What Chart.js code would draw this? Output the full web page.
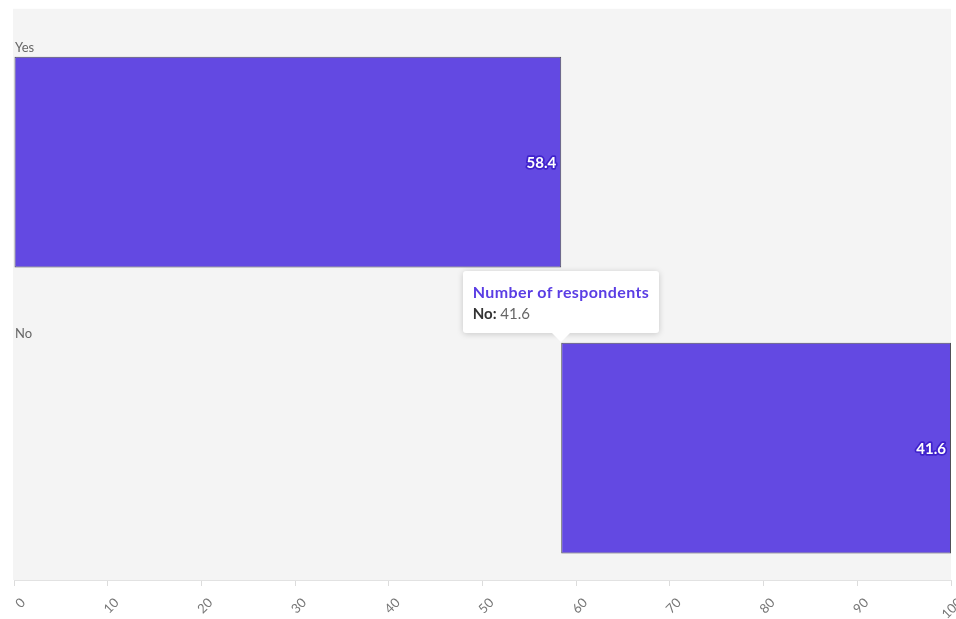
<!DOCTYPE html>
<html>
<head>
<meta charset="utf-8">
<script src="https://cdn.jsdelivr.net/npm/chart.js@4.4.1/dist/chart.umd.min.js"></script>
<style>
  html, body { margin: 0; padding: 0; background: #fff; }
  #wrap { position: relative; width: 956px; height: 619px; font-family: Lato, "Noto Sans", sans-serif; }
  #tip {
    position: absolute; opacity: 0; pointer-events: none;
    background: #fff; border-radius: 3px;
    box-shadow: 0 1px 6px rgba(0,0,0,.18);
    padding: 10px 10px 8px 10px; white-space: nowrap;
  }
  #tip::after {
    content: ''; position: absolute; left: 50%; bottom: -9px; margin-left: -9px;
    border-left: 9px solid transparent; border-right: 9px solid transparent;
    border-top: 9px solid #fff;
  }
  .tt-title { color: #5a3de4; font-weight: 700; font-size: 16px; line-height: 21px; letter-spacing: 0.4px; }
  .tt-body  { color: #666; font-size: 15px; line-height: 23px; }
  .tt-body b { color: #333; }
</style>
</head>
<body>
<div id="wrap">
  <canvas id="chart" width="956" height="619"></canvas>
  <div id="tip"></div>
</div>
<script>
// ===== Data =====
const categories  = ['Yes', 'No'];
const shares      = [58.4, 41.6];
const seriesLabel = 'Number of respondents';
const xTickStep   = 10;

// floating bars: each bar starts where the previous one ended
const starts = shares.map((v, i) => shares.slice(0, i).reduce((a, b) => a + b, 0));

const $ = id => document.getElementById(id);

// ===== Plugins =====
const plotBg = {
  id: 'plotBg',
  beforeDraw(chart) {
    const { ctx, chartArea: a } = chart;
    ctx.save();
    ctx.fillStyle = '#f4f4f4';
    ctx.fillRect(a.left - 1, a.top, a.right - a.left + 1, a.bottom - a.top);
    ctx.restore();
  }
};

const barValues = {
  id: 'barValues',
  afterDatasetsDraw(chart) {
    const { ctx } = chart;
    const meta = chart.getDatasetMeta(0);
    ctx.save();
    ctx.font = 'bold 15px Lato, "Noto Sans", sans-serif';
    ctx.textAlign = 'right';
    ctx.textBaseline = 'middle';
    ctx.lineJoin = 'round';
    meta.data.forEach((bar, i) => {
      const x = Math.max(bar.x, bar.base) - 5;
      const y = bar.y + 1;
      const txt = shares[i].toFixed(1);
      ctx.strokeStyle = '#3f22cc';
      ctx.lineWidth = 3.5;
      ctx.strokeText(txt, x, y);
      ctx.fillStyle = '#fff';
      ctx.fillText(txt, x, y);
    });
    ctx.restore();
  }
};

// tooltip sits above the start of the bar
Chart.Tooltip.positioners.barStart = function (items) {
  if (!items.length) return false;
  const b = items[0].element;
  return { x: Math.min(b.x, b.base), y: b.y - b.height / 2 };
};

function externalTip(context) {
  const el = $('tip');
  const m = context.tooltip;
  if (m.opacity === 0 || !m.dataPoints || !m.dataPoints.length) { el.style.opacity = 0; return; }
  const i = m.dataPoints[0].dataIndex;
  el.innerHTML = `<div class="tt-title">${seriesLabel}</div>
    <div class="tt-body"><b>${categories[i]}:</b> ${shares[i]}</div>`;
  el.style.opacity = 1;
  el.style.left = (m.caretX - el.offsetWidth / 2) + 'px';
  el.style.top  = (m.caretY - el.offsetHeight - 10) + 'px';
}

// ===== Chart =====
Chart.defaults.font.family = 'Lato, "Noto Sans", sans-serif';

const chart = new Chart($('chart'), {
  type: 'bar',
  data: {
    datasets: [{
      label: seriesLabel,
      data: categories.map((c, i) => ({ y: i, x: [starts[i], starts[i] + shares[i]] })),
      backgroundColor: '#6349e2',
      borderColor: 'rgba(50,50,60,0.85)',
      borderWidth: 1,
      borderSkipped: false,
      barPercentage: 0.7365,
      categoryPercentage: 1,
    }]
  },
  options: {
    indexAxis: 'y',
    responsive: false,
    animation: false,
    devicePixelRatio: 1,
    layout: { padding: { top: 8, left: 14, right: 5, bottom: 0 } },
    plugins: {
      legend: { display: false },
      tooltip: { enabled: false, external: externalTip, position: 'barStart' },
    },
    scales: {
      x: {
        type: 'linear',
        min: 0, max: 100,
        afterFit: s => { s.height = 39; s.paddingLeft = 0; s.paddingRight = 0; },
        grid: { drawOnChartArea: false, color: '#dcdcdc', tickLength: 6 },
        border: { color: '#e2e2e2' },
        ticks: {
          stepSize: xTickStep,
          minRotation: 45, maxRotation: 45,
          labelOffset: 9, padding: 9,
          color: '#777', font: { size: 13 },
        },
      },
      y: {
        type: 'linear',
        reverse: true,
        offset: false,
        min: -0.5358, max: 1.4607,
        afterFit: s => { s.width = 0; },
        grid: { display: false },
        border: { display: false },
        ticks: {
          stepSize: 1,
          includeBounds: false,
          mirror: true,
          padding: 1,
          labelOffset: -114.5,
          color: '#666', font: { size: 13 },
          callback: v => categories[v] ?? '',
        },
      },
    },
  },
  plugins: [plotBg, barValues],
});

chart.tooltip.setActiveElements([{ datasetIndex: 0, index: 1 }], { x: 0, y: 0 });
chart.update();
</script>
</body>
</html>
